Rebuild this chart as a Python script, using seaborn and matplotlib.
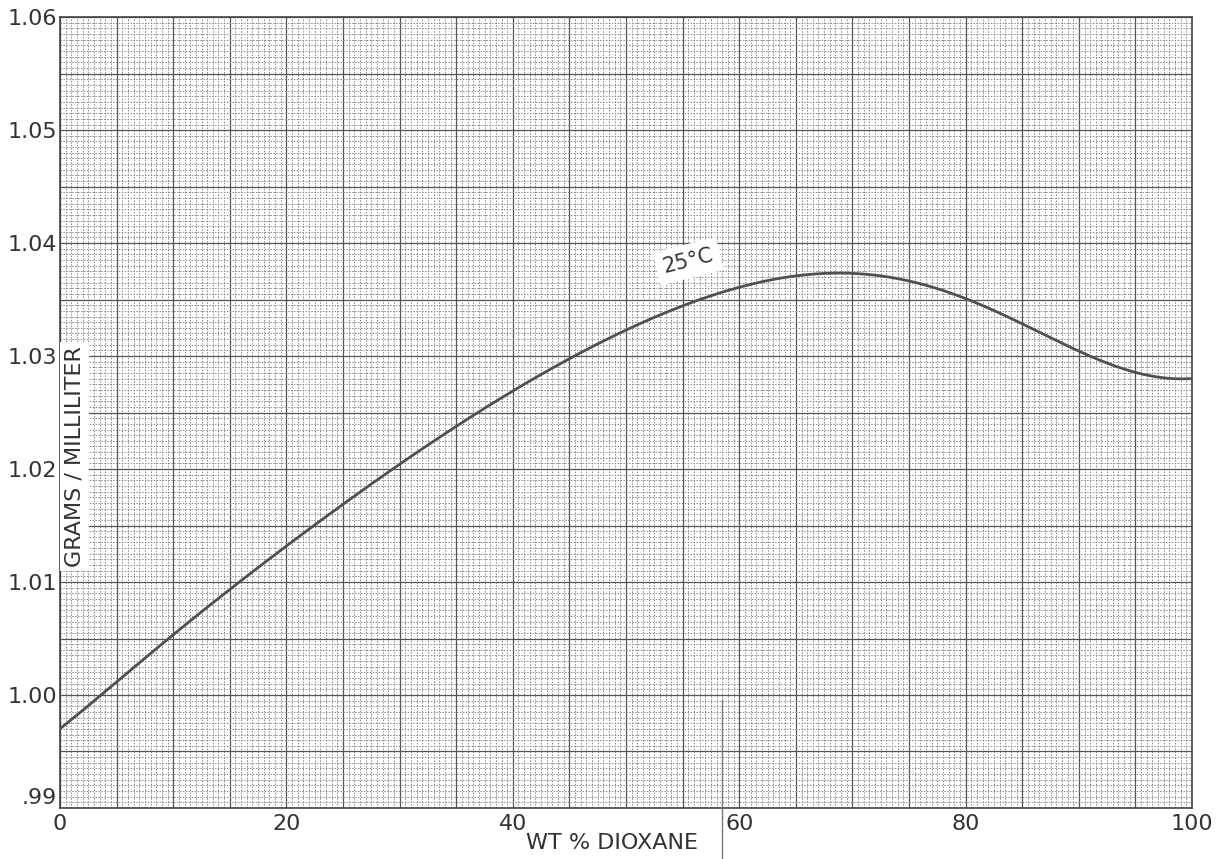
import numpy as np
import seaborn as sns
import matplotlib.pyplot as plt
from matplotlib.ticker import MultipleLocator, FuncFormatter

# wt % dioxane vs density (g/ml) at 25 C
wt_pct = [0, 5, 10, 15, 20, 25, 30, 35, 40, 45, 50, 55, 60, 65, 68, 70, 75, 80, 85, 90, 95, 100]
density = [0.9970, 1.0012, 1.0053, 1.0093, 1.0132, 1.0170, 1.0204, 1.0237, 1.0268, 1.0299,
           1.0324, 1.0344, 1.0360, 1.0371, 1.0374, 1.0373, 1.0366, 1.0352, 1.0328, 1.0304,
           1.0286, 1.0280]
x_labels = [0, 20, 40, 60, 80, 100]
y_labels = {0.99: ".99", 1.00: "1.00", 1.01: "1.01", 1.02: "1.02",
            1.03: "1.03", 1.04: "1.04", 1.05: "1.05", 1.06: "1.06"}

sns.set_theme(style="white")
plt.rcParams['font.family'] = ['DejaVu Sans']

fig = plt.figure(figsize=(12.22, 8.59), dpi=100)
ax = fig.add_axes([0.0491, 0.0594, 0.9264, 0.9206])

# smooth the hand-drawn curve
xs = np.linspace(0, 100, 400)
coef = np.polyfit(wt_pct, density, 9)
ys = np.polyval(coef, xs)
sns.lineplot(x=xs, y=ys, ax=ax, color="#505050", linewidth=2.0, zorder=5)

ax.set_xlim(0, 100)
ax.set_ylim(0.99, 1.06)

# graph paper grid
ax.xaxis.set_major_locator(MultipleLocator(5))
ax.xaxis.set_minor_locator(MultipleLocator(0.5))
ax.yaxis.set_major_locator(MultipleLocator(0.005))
ax.yaxis.set_minor_locator(MultipleLocator(0.0005))
ax.grid(which="major", color="#555555", linewidth=0.9)
ax.grid(which="minor", color="#8a8a8a", linewidth=0.7, linestyle=(0, (1.5, 1.5)))
ax.set_axisbelow(True)


def xfmt(v, pos):
    r = int(round(v))
    return str(r) if abs(v - r) < 1e-6 and r in x_labels else ""


def yfmt(v, pos):
    for k, s in y_labels.items():
        if abs(v - k) < 1e-6:
            return s
    return ""


ax.xaxis.set_major_formatter(FuncFormatter(xfmt))
ax.yaxis.set_major_formatter(FuncFormatter(yfmt))
ax.tick_params(axis="both", which="both", length=0, labelsize=16, colors="#333333", pad=4)
ax.tick_params(axis="y", pad=2)

fig.canvas.draw()
for lbl in ax.get_yticklabels():
    if lbl.get_text() == ".99":
        lbl.set_verticalalignment("bottom")

for s in ax.spines.values():
    s.set_color("#444444")
    s.set_linewidth(1.2)

ax.set_xlabel("")
ax.set_ylabel("")
fig.text(0.501, 0.0186, "WT % DIOXANE", ha="center", va="center", fontsize=16, color="#333333")
ax.text(1.3, 1.0211, "GRAMS / MILLILITER", rotation=90, ha="center", va="center",
        fontsize=16, color="#333333",
        bbox=dict(facecolor="white", edgecolor="none", pad=3), zorder=6)
ax.text(55.5, 1.0384, "25°C", rotation=14, ha="center", va="center",
        fontsize=15, color="#333333",
        bbox=dict(facecolor="white", edgecolor="none", pad=5), zorder=6)

# stray vertical line below the axis on the scan
fig.add_artist(plt.Line2D([722 / 1222, 722 / 1222], [0.0, 0.185], color="#777777", linewidth=1.0))

fig.savefig("out.png", dpi=100)
